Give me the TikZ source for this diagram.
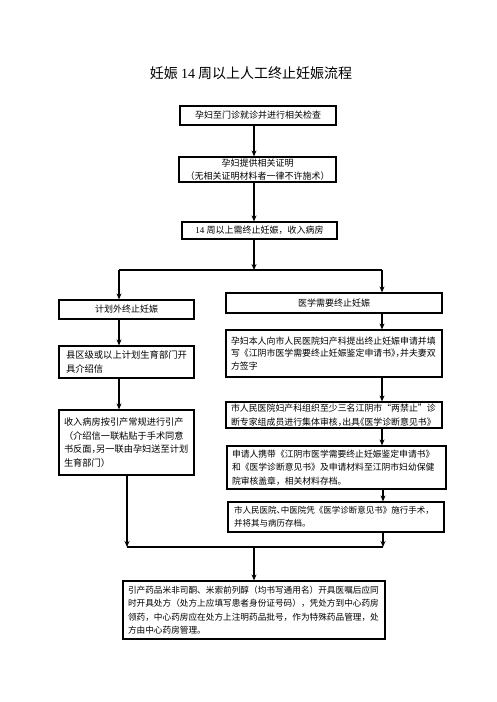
\documentclass[tikz,border=0pt]{standalone}
\usepackage{fontspec}
\setmainfont{Liberation Serif}
\newfontfamily\cjk{Noto Sans CJK SC}
\newfontfamily\cjkh[RawFeature=+halt]{Noto Sans CJK SC}
\newcommand{\hw}[1]{{\cjkh #1}}
\newcommand{\lat}[1]{{\rmfamily #1}}
\newcommand{\fs}[2]{\fontsize{#1}{#2}\selectfont}
\usetikzlibrary{arrows.meta}
\tikzset{
  box/.style={draw, line width=1.2pt, inner ysep=0pt, align=center, font={\cjk\fs{9}{12.5}}},
  lbox/.style={draw, line width=1.2pt, inner ysep=0pt, align=left},
  arr/.style={line width=1.1pt, -{Stealth[length=6pt,width=5pt]}},
  ln/.style={line width=1.1pt}
}
\begin{document}
\begin{tikzpicture}[x=1pt,y=-1pt]
\useasboundingbox (0,0) rectangle (496,702);
\node[font={\cjk\fs{14}{16}}] (title) at (251,73) {妊娠 \lat{14} 周以上人工终止妊娠流程};

\node[box, minimum width=156pt, minimum height=19pt] (b1) at (258,115.5) {孕妇至门诊就诊并进行相关检查};
\node[box, minimum width=157pt, minimum height=25pt] (b2) at (257.5,169.5) {孕妇提供相关证明\\（无相关证明材料者一律不许施术）};
\node[box, minimum width=155pt, minimum height=17pt] (b3) at (259.5,230.5) {\lat{14} 周以上需终止妊娠，收入病房};

\node[box, minimum width=135pt, minimum height=19pt] (l1) at (126.5,309.5) {计划外终止妊娠};
\node[box, minimum width=216pt, minimum height=20pt] (r1) at (334,303) {医学需要终止妊娠};

\node[lbox, inner xsep=7pt, text width=121pt, minimum height=32pt, font={\cjk\fs{9.3}{14}}] (l2) at (126.5,362) {县区级或以上计划生育部门开\\具介绍信};
\node[lbox, inner xsep=5pt, text width=125pt, minimum height=65pt, font={\cjk\fs{9.2}{13.5}}] (l3) at (126.5,442.5) {收入病房按引产常规进行引产\\（介绍信一联粘贴于手术同意\\书反面\hw{，}另一联由孕妇送至计划\\生育部门）};

\node[lbox, inner xsep=5pt, text width=206pt, minimum height=47pt, font={\cjk\fs{8.9}{12.5}}] (r2) at (334,353.5) {孕妇本人向市人民医院妇产科提出终止妊娠申请并填\\写《江阴市医学需要终止妊娠鉴定申请书\hw{》，}并夫妻双\\方签字};
\node[lbox, inner xsep=5pt, text width=206pt, minimum height=26pt, font={\cjk\fs{8.9}{14}}] (r3) at (334,415) {市人民医院妇产科组织至少三名江阴市“两禁止”诊\\断专家组成员进行集体审核\hw{，}出具\hw{《}医学诊断意见书》};
\node[lbox, inner xsep=5pt, text width=209pt, minimum height=43pt, font={\cjk\fs{8.8}{13.5}}] (r4) at (336.5,467.5) {申请人携带《江阴市医学需要终止妊娠鉴定申请书》\\和《医学诊断意见书》及申请材料至江阴市妇幼保健\\院审核盖章，相关材料存档。};
\node[lbox, inner xsep=6pt, text width=204pt, minimum height=30pt, font={\cjk\fs{8.5}{13}}] (r5) at (336,517) {市人民医院\hw{、}中医院凭《医学诊断意见书》施行手术\hw{，}\\并将其与病历存档。};

\node[lbox, inner xsep=5pt, text width=252pt, minimum height=58pt, font={\cjk\fs{8.65}{13.3}}] (bt) at (254,610) {引产药品米非司酮、米索前列醇（均书写通用名）开具医嘱后应同\\时开具处方（处方上应填写患者身份证号码），凭处方到中心药房\\领药，中心药房应在处方上注明药品批号，作为特殊药品管理，处\\方由中心药房管理。};

\coordinate (jt) at (254,270);
\coordinate (jl) at (119,270);
\coordinate (jr) at (382,270);
\coordinate (ml) at (127,547);
\coordinate (mr) at (383,547);
\coordinate (mc) at (254,547);

\draw[arr] (b1.south -| jt) -- (b2.north -| jt);
\draw[arr] (b2.south -| jt) -- (b3.north -| jt);
\draw[arr] (b3.south -| jt) -- (jt);
\draw[ln] (jl) -- (jr);
\draw[arr] (jl) -- (l1.north -| jl);
\draw[arr] (jr) -- (r1.north -| jr);
\draw[arr] (l1.south -| jl) -- (l2.north -| jl);
\draw[arr] (l2.south -| jl) -- (l3.north -| jl);
\draw[arr] (l3.south -| ml) -- (ml);
\draw[arr] (r1.south -| jr) -- (r2.north -| jr);
\draw[arr] (r2.south -| jr) -- (r3.north -| jr);
\draw[arr] (r3.south -| jr) -- (r4.north -| jr);
\draw[arr] (r4.south -| mr) -- (r5.north -| mr);
\draw[arr] (r5.south -| mr) -- (mr);
\draw[ln] (ml) -- (mr);
\draw[arr] (mc) -- (bt.north -| mc);
\end{tikzpicture}
\end{document}
